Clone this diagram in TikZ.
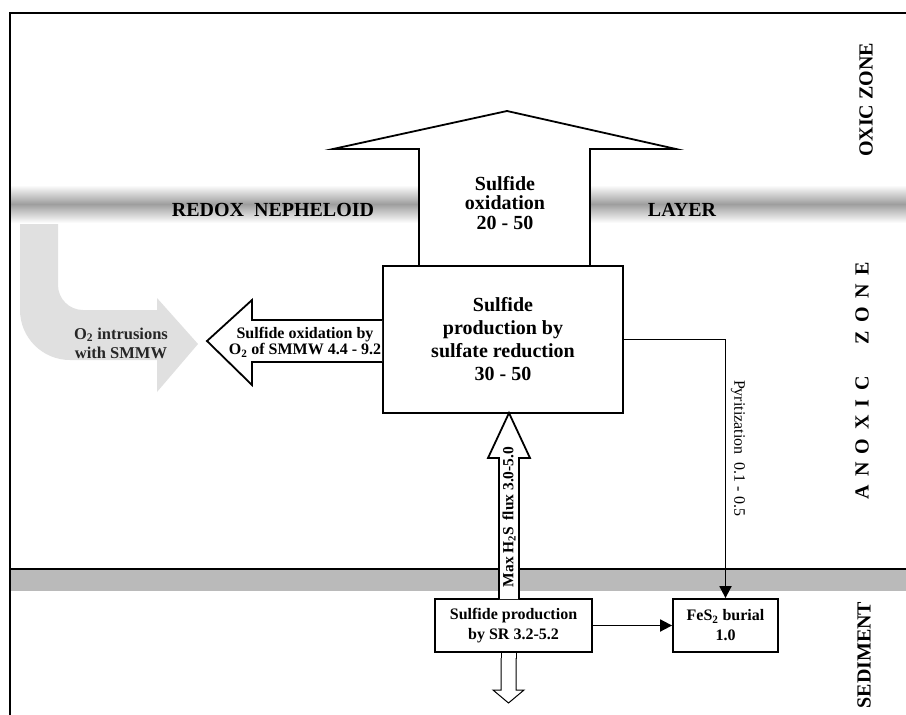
\documentclass[tikz,border=0pt]{standalone}
\usepackage{fontspec}
\setmainfont{Liberation Serif}
\usetikzlibrary{arrows.meta}
\tikzset{
  lw/.style={line width=1.8pt},
  boxnode/.style={draw, lw, fill=white, align=center, inner sep=0pt},
  big/.style={font=\fontsize{20}{23}\selectfont\bfseries, align=center},
  mid/.style={font=\fontsize{16}{18}\selectfont\bfseries, align=center},
  zone/.style={font=\fontsize{20}{22}\selectfont\bfseries, rotate=90},
  blockarrow/.style={lw, fill=white, line join=miter},
  conn/.style={line width=1.8pt, -{Triangle[length=12pt,width=12pt]}}
}
\newcommand{\lsp}{\hskip 8.5pt}
\begin{document}
\begin{tikzpicture}[x=1pt,y=-1pt]
\useasboundingbox (0,0) rectangle (906,715);
\fill[white] (0,0) rectangle (906,715);
% redox nepheloid band
\shade[top color=white, bottom color=white, middle color=black!38] (11,185) rectangle (906,223);
% sediment band
\fill[black!27] (11,569) rectangle (906,591);
\draw[line width=1.5pt] (10,569) -- (906,569);
% frame
\draw[line width=1.8pt] (10,715) -- (10,13) -- (906,13);
% band labels
\node[big] (redox) at (273,210) {REDOX\hspace{0.5em}NEPHELOID};
\node[big] (layer) at (682,210) {LAYER};
% light gray intrusion arrow
\fill[black!12] (20,224) -- (20,310) .. controls (20,337.6) and (42.4,360) .. (70,360)
  -- (157,360) -- (157,392) -- (198,344) -- (157,298) -- (157,310) -- (83,310)
  .. controls (69.2,310) and (58,298.8) .. (58,285) -- (58,224) -- cycle;
\node[mid, text=black!85, font=\fontsize{16.5}{19}\selectfont\bfseries] (intr) at (121,343) {O\textsubscript{2} intrusions\\with SMMW};
% big up arrow (sulfide oxidation)
\draw[blockarrow] (419,268) -- (419,149) -- (333,149) -- (507,111) -- (676,149) -- (590,149) -- (590,268);
\node[big, font=\fontsize{20}{19.5}\selectfont\bfseries] (ox) at (505,203) {Sulfide\\oxidation\\20 - 50};
% main box
\node[boxnode, big, minimum width=240pt, minimum height=147pt] (sr) at (503,339.5)
  {Sulfide\\production by\\sulfate reduction\\30 - 50};
% left arrow
\draw[blockarrow] (sr.west |- 0,320) -- (252,320) -- (252,300) -- (207,341) -- (252,385) -- (252,362) -- (sr.west |- 0,362);
\node[mid, font=\fontsize{16}{16.5}\selectfont\bfseries] (smmw) at (305,342) {Sulfide oxidation by\\O\textsubscript{2} of SMMW 4.4 - 9.2};
% sediment boxes
\node[boxnode, mid, font=\fontsize{16}{20}\selectfont\bfseries, minimum width=157pt, minimum height=53pt] (sed) at (513.5,625.5)
  {Sulfide production\\by SR 3.2-5.2};
\node[boxnode, mid, font=\fontsize{16}{20}\selectfont\bfseries, minimum width=105pt, minimum height=53pt] (fes) at (725.5,625.5)
  {FeS\textsubscript{2} burial\\1.0};
% max H2S flux arrow
\draw[blockarrow] (499,599) -- (499,458) -- (488,458) -- (509,413) -- (530,458) -- (519,458) -- (519,599);
\node[font=\fontsize{15.5}{17}\selectfont\bfseries, rotate=90] (h2s) at (509,517) {Max H\textsubscript{2}S\hspace{0.4em}flux 3.0-5.0};
% pyritization
\draw[conn] (sr.east) -| (fes.north);
\node[font=\fontsize{16}{18}\selectfont, rotate=-90] (pyr) at (738,448) {Pyritization\hspace{0.5em}0.1 - 0.5};
% SR to burial
\draw[conn] (sed.east) -- (fes.west);
% downward open arrow
\draw[line width=1pt, fill=white] (501,652) rectangle (516,658);
\draw[line width=1pt, fill=white] (501,658) -- (501,690) -- (493,690) -- (508.5,703) -- (524,690) -- (516,690) -- (516,658);
% zone labels
\node[zone] (oxic) at (866,100) {OXIC ZONE};
\node[zone] (anoxic) at (862,381) {A\lsp N\lsp O\lsp X\lsp I\lsp C\hskip 32pt Z\lsp O\lsp N\lsp E};
\node[zone] (sedl) at (864,655) {SEDIMENT};
\end{tikzpicture}
\end{document}
